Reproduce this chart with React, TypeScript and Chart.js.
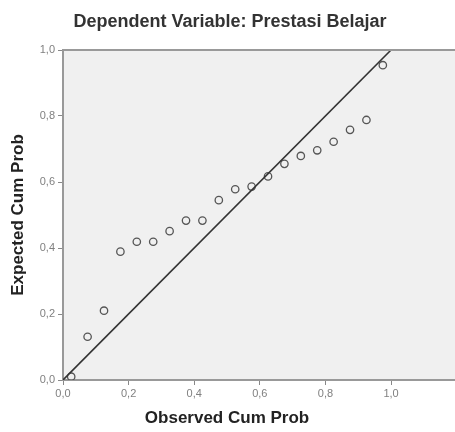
import React, { useEffect, useRef } from "react";
import { Chart, registerables } from "chart.js";

Chart.register(...registerables);

const chartTitle = "Dependent Variable: Prestasi Belajar";
const xTitle = "Observed Cum Prob";
const yTitle = "Expected Cum Prob";

const observedCumProb = [
  0.025, 0.075, 0.125, 0.175, 0.225, 0.275, 0.325, 0.375, 0.425, 0.475,
  0.525, 0.575, 0.625, 0.675, 0.725, 0.775, 0.825, 0.875, 0.925, 0.975,
];
const expectedCumProb = [
  0.01, 0.131, 0.21, 0.389, 0.419, 0.419, 0.451, 0.483, 0.483, 0.545,
  0.578, 0.586, 0.617, 0.655, 0.679, 0.696, 0.722, 0.758, 0.788, 0.954,
];
const refLineX = [0, 1];
const refLineY = [0, 1];
const xTickValues = [0, 0.2, 0.4, 0.6, 0.8, 1.0];
const yTickValues = [0, 0.2, 0.4, 0.6, 0.8, 1.0];

const FONT = "'Liberation Sans', Arial, sans-serif";

const decorPlugin = {
  id: "decor",
  beforeDraw(chart: any) {
    const { ctx, chartArea } = chart;
    ctx.save();
    ctx.fillStyle = "#f0f0f0";
    ctx.fillRect(chartArea.left, chartArea.top, chartArea.right - chartArea.left, chartArea.bottom - chartArea.top);
    ctx.restore();
  },
  afterDraw(chart: any) {
    const { ctx, chartArea, scales } = chart;
    ctx.save();
    ctx.strokeStyle = "#999999";
    ctx.lineWidth = 2;
    ctx.beginPath();
    ctx.moveTo(chartArea.left, chartArea.top);
    ctx.lineTo(chartArea.right, chartArea.top);
    ctx.stroke();

    const x0 = scales.x.getPixelForValue(0);
    const x1 = scales.x.getPixelForValue(1);
    const cx = (x0 + x1) / 2;
    const cy = (chartArea.top + chartArea.bottom) / 2;

    ctx.fillStyle = "#333333";
    ctx.font = `bold 18px ${FONT}`;
    ctx.textAlign = "center";
    ctx.textBaseline = "middle";
    ctx.fillText(chartTitle, 230, 22);

    ctx.fillStyle = "#222222";
    ctx.font = `bold 17px ${FONT}`;
    ctx.fillText(xTitle, cx, 418);

    ctx.translate(18, cy);
    ctx.rotate(-Math.PI / 2);
    ctx.fillText(yTitle, 0, 0);
    ctx.restore();
  },
};

export default function App() {
  const ref = useRef<HTMLCanvasElement | null>(null);

  useEffect(() => {
    if (!ref.current) return;
    const points = observedCumProb.map((x, i) => ({ x, y: expectedCumProb[i] }));
    const line = refLineX.map((x, i) => ({ x, y: refLineY[i] }));
    const fmt = (v: any) => Number(v).toFixed(1).replace(".", ",");

    const chart = new Chart(ref.current, {
      type: "scatter",
      data: {
        datasets: [
          {
            type: "line",
            data: line,
            borderColor: "#333333",
            borderWidth: 1.6,
            pointRadius: 0,
            fill: false,
          } as any,
          {
            data: points,
            pointStyle: "circle",
            pointRadius: 3.7,
            pointBorderWidth: 1.3,
            pointBorderColor: "#555555",
            pointBackgroundColor: "rgba(0,0,0,0)",
            showLine: false,
          } as any,
        ],
      },
      options: {
        animation: false,
        responsive: true,
        maintainAspectRatio: false,
        layout: { autoPadding: false, padding: { top: 50, left: 0, right: 0, bottom: 0 } },
        plugins: {
          legend: { display: false },
          tooltip: { enabled: false },
          title: { display: false },
        },
        scales: {
          x: {
            type: "linear",
            min: 0,
            max: 1.195,
            afterBuildTicks: (scale: any) => {
              scale.ticks = xTickValues.map((value) => ({ value }));
            },
            afterFit: (scale: any) => {
              scale.height = 52;
              scale.paddingLeft = 0;
              scale.paddingRight = 0;
            },
            border: { display: true, color: "#999999", width: 2 },
            grid: {
              drawOnChartArea: false,
              drawTicks: true,
              tickLength: 5,
              tickColor: "#888888",
              tickWidth: 1,
            },
            ticks: {
              callback: fmt,
              padding: 2,
              color: "#808080",
              font: { family: FONT, size: 11 },
              maxRotation: 0,
            },
          },
          y: {
            type: "linear",
            min: 0,
            max: 1,
            afterBuildTicks: (scale: any) => {
              scale.ticks = yTickValues.map((value) => ({ value }));
            },
            afterFit: (scale: any) => {
              scale.width = 63;
              scale.paddingTop = 0;
              scale.paddingBottom = 0;
            },
            border: { display: true, color: "#999999", width: 2 },
            grid: {
              drawOnChartArea: false,
              drawTicks: true,
              tickLength: 5,
              tickColor: "#888888",
              tickWidth: 1,
            },
            ticks: {
              callback: fmt,
              padding: 3,
              color: "#808080",
              font: { family: FONT, size: 11 },
            },
          },
        },
      } as any,
      plugins: [decorPlugin],
    });
    return () => chart.destroy();
  }, []);

  return (
    <div style={{ position: "fixed", left: 0, top: 0, width: 455, height: 432, background: "#ffffff" }}>
      <canvas ref={ref} />
    </div>
  );
}
